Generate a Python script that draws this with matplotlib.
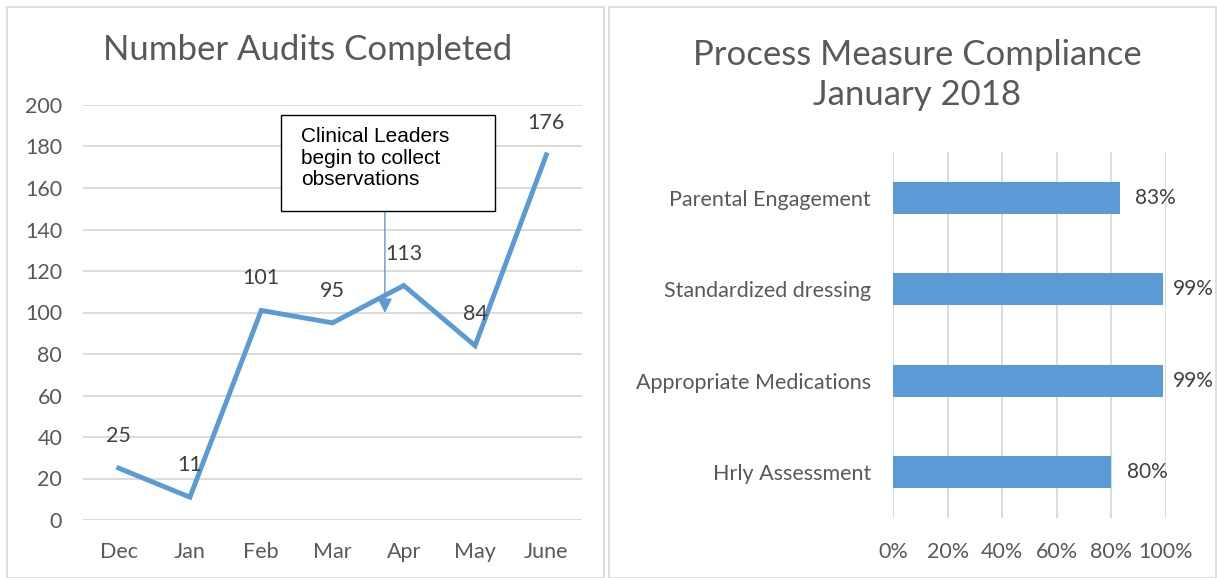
import matplotlib
matplotlib.use('Agg')
import matplotlib.pyplot as plt
from matplotlib.patches import Rectangle

# data
months = ['Dec', 'Jan', 'Feb', 'Mar', 'Apr', 'May', 'June']
audits = [25, 11, 101, 95, 113, 84, 176]

measures = ['Hrly Assessment', 'Appropriate Medications', 'Standardized dressing', 'Parental Engagement']
compliance = [0.80, 0.99, 0.99, 0.83]
pct_labels = ['80%', '99%', '99%', '83%']

blue = '#5B9BD5'
grey_txt = '#595959'
grid_c = '#D9D9D9'

plt.rcParams['font.family'] = ['Lato', 'DejaVu Sans']

W, H = 1217, 578
fig = plt.figure(figsize=(W / 100, H / 100), dpi=100)

def px_axes(x0, y0, x1, y1):
    # pixel box (top-left origin) -> figure axes
    return fig.add_axes([x0 / W, 1 - y1 / H, (x1 - x0) / W, (y1 - y0) / H])

# panel borders
fig.add_artist(Rectangle((7 / W, 0), (604 - 7) / W, 1 - 7 / H, transform=fig.transFigure,
                         fill=False, edgecolor=grid_c, lw=1.2))
fig.add_artist(Rectangle((609 / W, 0), (1216 - 609) / W, 1 - 7 / H, transform=fig.transFigure,
                         fill=False, edgecolor=grid_c, lw=1.2))

fs = 15.5

######## left: line chart ########
ax = px_axes(83, 105, 582, 520)
x = list(range(len(months)))
ax.plot(x, audits, color=blue, lw=3.5, solid_joinstyle='miter', zorder=3)
for xi, v in zip(x, audits):
    ax.annotate(str(v), (xi, v), xytext=(0, 23), textcoords='offset points',
                ha='center', va='center', fontsize=fs, color='#404040', zorder=4)
ax.set_ylim(0, 200)
ax.set_xlim(-0.5, len(months) - 0.5)
ax.set_yticks(range(0, 201, 20))
ax.set_xticks(x)
ax.set_xticklabels(months)
ax.grid(axis='y', color=grid_c, lw=1.3)
ax.set_axisbelow(True)
for s in ax.spines.values():
    s.set_visible(False)
ax.tick_params(length=0, labelsize=fs, labelcolor=grey_txt)
ax.tick_params(axis='x', pad=16)
ax.tick_params(axis='y', pad=15)
fig.text(308 / W, 1 - 50 / H, 'Number Audits Completed', fontsize=25, color=grey_txt,
         ha='center', va='center')

# callout
ax.annotate('', xy=(0.605, 0.499), xytext=(0.605, 0.745), xycoords='axes fraction',
            arrowprops=dict(arrowstyle='-|>', color=blue, lw=1, mutation_scale=22,
                            shrinkA=0, shrinkB=0), zorder=5)
ax.add_patch(Rectangle((0.397, 0.745), 0.429, 0.231, transform=ax.transAxes,
                       facecolor='white', edgecolor='black', lw=1, zorder=6))
ax.text(0.437, 0.947, 'Clinical Leaders\nbegin to collect\nobservations', fontsize=15,
        family='Liberation Sans', color='black', ha='left', va='top', linespacing=1.18,
        transform=ax.transAxes, zorder=7)

######## right: bar chart ########
bx = px_axes(893, 152, 1166, 518)
y = list(range(len(measures)))
bx.barh(y, compliance, height=0.35, color=blue, zorder=3)
for yi, v, lab in zip(y, compliance, pct_labels):
    # labels near the panel edge get pulled in, as in the original
    bx.text(min(v + 0.058, 1.025), yi, lab, ha='left', va='center', fontsize=15,
            color='#404040')
bx.set_xlim(0, 1)
bx.set_ylim(-0.5, len(measures) - 0.5)
bx.set_xticks([0, 0.2, 0.4, 0.6, 0.8, 1.0])
bx.set_xticklabels(['0%', '20%', '40%', '60%', '80%', '100%'])
bx.set_yticks(y)
bx.set_yticklabels(measures)
bx.grid(axis='x', color=grid_c, lw=1.3)
bx.set_axisbelow(True)
for s in bx.spines.values():
    s.set_visible(False)
bx.tick_params(length=0, labelsize=fs, labelcolor=grey_txt)
bx.tick_params(axis='x', pad=17)
bx.tick_params(axis='y', pad=16)
fig.text(917 / W, 1 - 75 / H, 'Process Measure Compliance\nJanuary 2018', fontsize=25,
         color=grey_txt, ha='center', va='center', linespacing=1.3)

fig.savefig('out.png', dpi=100, facecolor='white')
